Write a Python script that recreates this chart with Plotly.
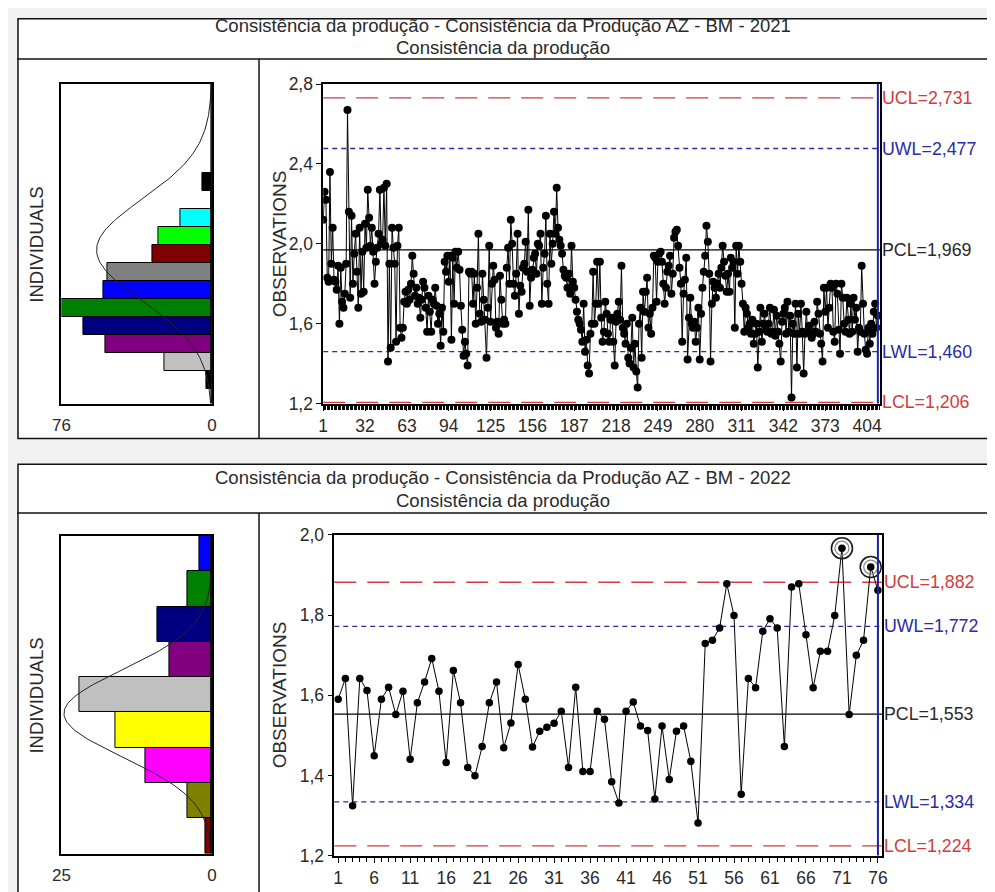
import numpy as np
import plotly.graph_objects as go

# Layout positions below are given in screenshot pixels (995x892).
# Measured from earlier renders: screenshot_px = SCALE * figure_px + ORIGIN
SCALE, ORIGIN = 0.982, 15.7
W, H = 997, 893

# ---------------- data ----------------
title_2021 = "Consistência da produção - Consistência da Produção AZ - BM - 2021"
title_2022 = "Consistência da produção - Consistência da Produção AZ - BM - 2022"
subtitle = "Consistência da produção"

obs_2021 = [
    2.12, 2.26, 2.22, 1.83, 1.81, 2.36, 1.90, 2.08, 1.82, 1.81,
    1.77, 1.89, 1.60, 1.88, 1.71, 1.68, 1.75, 1.90, 2.67, 2.16,
    1.73, 2.14, 1.80, 1.95, 2.05, 1.86, 1.68, 2.08, 1.75, 1.96,
    1.76, 2.10, 1.98, 2.27, 2.13, 1.99, 2.08, 1.96, 1.80, 1.91,
    1.98, 2.05, 2.27, 2.00, 2.02, 2.28, 1.99, 2.30, 1.41, 1.90,
    1.48, 2.08, 1.98, 1.90, 1.51, 1.99, 2.08, 1.58, 1.53, 1.58,
    1.71, 1.76, 1.70, 1.77, 1.72, 1.80, 1.94, 1.85, 1.74, 1.78,
    1.70, 1.73, 1.63, 1.72, 1.81, 1.78, 1.68, 1.56, 1.74, 1.66,
    1.56, 1.72, 1.70, 1.78, 1.69, 1.60, 1.65, 1.49, 1.68, 1.56,
    1.91, 1.86, 1.94, 1.81, 1.94, 1.52, 1.93, 1.70, 1.96, 1.88,
    1.96, 1.87, 1.69, 1.57, 1.44, 1.51, 1.45, 1.39, 1.86, 1.85,
    1.86, 1.70, 1.85, 1.60, 1.78, 2.05, 1.65, 1.61, 1.85, 1.72,
    1.62, 1.43, 1.68, 1.99, 1.61, 1.80, 1.89, 1.82, 1.58, 1.61,
    1.55, 1.84, 1.72, 1.60, 1.62, 1.60, 1.88, 1.98, 1.80, 2.12,
    2.00, 1.80, 1.74, 1.85, 2.05, 1.65, 1.79, 1.76, 1.88, 1.90,
    2.01, 1.86, 2.17, 1.69, 1.83, 1.87, 1.93, 1.95, 1.85, 2.00,
    1.99, 2.05, 1.70, 1.88, 1.95, 2.14, 1.80, 1.70, 2.05, 1.90,
    2.00, 2.16, 2.05, 2.28, 2.08, 2.02, 1.99, 1.95, 1.87, 1.84,
    1.83, 1.78, 1.85, 1.75, 1.99, 1.81, 1.78, 1.72, 1.66, 1.62,
    1.60, 1.57, 1.51, 1.70, 1.46, 1.52, 1.39, 1.35, 1.55, 1.60,
    1.86, 1.60, 1.70, 1.91, 1.70, 1.91, 1.63, 1.51, 1.56, 1.71,
    1.65, 1.55, 1.51, 1.62, 1.63, 1.51, 1.39, 1.61, 1.65, 1.71,
    1.62, 1.89, 1.58, 1.55, 1.50, 1.60, 1.43, 1.40, 1.48, 1.63,
    1.38, 1.50, 1.36, 1.28, 1.60, 1.68, 1.43, 1.76, 1.66, 1.76,
    1.83, 1.58, 1.65, 1.55, 1.68, 1.94, 1.93, 1.71, 1.91, 1.95,
    1.96, 1.91, 1.80, 1.70, 1.78, 1.86, 1.89, 1.94, 1.75, 1.85,
    2.03, 2.06, 2.07, 1.99, 1.88, 1.80, 1.51, 1.75, 1.82, 1.93,
    1.42, 1.63, 1.73, 1.60, 1.58, 1.61, 1.51, 1.58, 1.68, 1.42,
    1.65, 1.78, 1.86, 1.94, 2.09, 2.01, 1.85, 1.41, 1.70, 1.81,
    1.78, 1.73, 1.80, 1.85, 1.78, 1.88, 1.99, 1.91, 1.84, 1.76,
    1.85, 1.76, 1.93, 1.88, 1.91, 1.58, 1.99, 1.85, 1.99, 1.91,
    1.80, 1.70, 1.56, 1.68, 1.65, 1.58, 1.60, 1.55, 1.62, 1.50,
    1.55, 1.60, 1.38, 1.56, 1.68, 1.51, 1.60, 1.65, 1.57, 1.56,
    1.60, 1.68, 1.55, 1.56, 1.67, 1.54, 1.64, 1.56, 1.50, 1.41,
    1.61, 1.65, 1.68, 1.55, 1.71, 1.56, 1.64, 1.23, 1.60, 1.55,
    1.70, 1.38, 1.65, 1.55, 1.70, 1.56, 1.35, 1.55, 1.66, 1.56,
    1.59, 1.56, 1.53, 1.55, 1.61, 1.56, 1.71, 1.65, 1.55, 1.50,
    1.41, 1.78, 1.66, 1.78, 1.58, 1.68, 1.80, 1.78, 1.56, 1.51,
    1.80, 1.75, 1.57, 1.45, 1.80, 1.73, 1.60, 1.56, 1.73, 1.62,
    1.55, 1.70, 1.56, 1.73, 1.62, 1.68, 1.46, 1.58, 1.56, 1.89,
    1.70, 1.55, 1.47, 1.45, 1.58, 1.50, 1.60, 1.55, 1.66, 1.70,
    1.58, 1.64,
]

obs_2022 = [
    1.590, 1.642, 1.324, 1.642, 1.612, 1.449, 1.590, 1.620, 1.552, 1.610,
    1.440, 1.581, 1.633, 1.692, 1.610, 1.432, 1.662, 1.581, 1.420, 1.399,
    1.472, 1.581, 1.633, 1.469, 1.531, 1.677, 1.590, 1.471, 1.510, 1.520,
    1.530, 1.560, 1.420, 1.620, 1.410, 1.410, 1.560, 1.540, 1.384, 1.331,
    1.560, 1.583, 1.523, 1.512, 1.341, 1.523, 1.390, 1.510, 1.523, 1.435,
    1.281, 1.729, 1.737, 1.768, 1.878, 1.799, 1.353, 1.642, 1.619, 1.760,
    1.791, 1.768, 1.472, 1.870, 1.878, 1.751, 1.619, 1.710, 1.710, 1.799,
    1.967, 1.552, 1.700, 1.737, 1.920, 1.862,
]

limit_names = ["UCL", "UWL", "PCL", "LWL", "LCL"]
limits_2021 = [2.731, 2.477, 1.969, 1.460, 1.206]
limits_2022 = [1.882, 1.772, 1.553, 1.334, 1.224]

yticks_2021 = [1.2, 1.6, 2.0, 2.4, 2.8]
yticks_2022 = [1.2, 1.4, 1.6, 1.8, 2.0]

# histograms (counts, bins listed bottom -> top)
hist21_start, hist21_width = 1.274, 0.09
hist21_counts = [3, 24, 54, 65, 76, 55, 53, 30, 27, 16, 0, 5]
hist21_colors = ["#000000", "#c0c0c0", "#800080", "#000080", "#008000", "#0000ff",
                 "#808080", "#800000", "#00ff00", "#00ffff", "#ffffff", "#000000"]
hist21_max = 76

hist22_start, hist22_width = 1.2, 0.8 / 9
hist22_counts = [1, 4, 11, 16, 22, 7, 9, 4, 2]
hist22_colors = ["#800000", "#808000", "#ff00ff", "#ffff00", "#c0c0c0", "#800080",
                 "#000080", "#008000", "#0000ff"]
hist22_max = 25

# ---------------- styling ----------------
FONT = "Liberation Sans, Arial, sans-serif"
RED = "#d23c3c"
BLUE = "#2b2ba6"
TXT = "#2a2a2a"
limit_colors = [RED, BLUE, "#000000", BLUE, RED]
limit_dash = ["22px,11px", "5px,4px", "solid", "5px,4px", "22px,11px"]
label_colors = [RED, BLUE, TXT, BLUE, RED]


def fx(px):
    return max(0.0, (px - ORIGIN) / SCALE / W)


def fy(py):
    return min(1.0, 1 - (py - ORIGIN) / SCALE / H)


fig = go.Figure()
shapes = []
annotations = []

# panel frames
for (x0, y0, x1, y1) in [(10, 10, 990, 438), (12, 463, 990, 905)]:
    shapes.append(dict(type="rect", xref="paper", yref="paper", x0=fx(x0) + 0.001,
                       x1=fx(x1), y0=fy(y1), y1=fy(y0) - 0.001, fillcolor="white",
                       line=dict(color="#111", width=1.5), layer="below"))
for (y, x0, x1) in [(57, 10, 990), (513, 12, 990)]:
    shapes.append(dict(type="line", xref="paper", yref="paper", x0=fx(x0), x1=fx(x1),
                       y0=fy(y), y1=fy(y), line=dict(color="#111", width=1.5)))
for (ya, yb) in [(57, 438), (513, 905)]:
    shapes.append(dict(type="line", xref="paper", yref="paper", x0=fx(257), x1=fx(257),
                       y0=fy(yb), y1=fy(ya), line=dict(color="#111", width=1.5)))

# titles
for (t, yy) in [(title_2021, 23), (subtitle, 45), (title_2022, 477), (subtitle, 500)]:
    annotations.append(dict(text=t, xref="paper", yref="paper", x=fx(500), y=fy(yy),
                            showarrow=False, xanchor="center", yanchor="middle",
                            font=dict(family=FONT, size=18.5, color=TXT)))

panels = [
    dict(obs=obs_2021, lim=limits_2021, yt=yticks_2021, yr=[1.2, 2.8], xdtick=31,
         main=("x", "y", "xaxis", "yaxis"), hist=("x2", "y2", "xaxis2", "yaxis2"),
         mdx=(321, 876), mdy=(82, 403), hdy=(82, 403),
         hstart=hist21_start, hw=hist21_width, hc=hist21_counts, hcol=hist21_colors,
         hmax=hist21_max, msize=8, labx=876, ycenter=243, mtl=6, mtw=1.4),
    dict(obs=obs_2022, lim=limits_2022, yt=yticks_2022, yr=[1.2, 2.0], xdtick=5,
         main=("x3", "y3", "xaxis3", "yaxis3"), hist=("x4", "y4", "xaxis4", "yaxis4"),
         mdx=(332, 878), mdy=(535, 857), hdy=(536, 855),
         hstart=hist22_start, hw=hist22_width, hc=hist22_counts, hcol=hist22_colors,
         hmax=hist22_max, msize=7.5, labx=878, ycenter=696, mtl=6, mtw=1),
]

layout_axes = {}
for p in panels:
    obs = p["obs"]
    n = len(obs)
    xs = list(range(1, n + 1))
    xr_, yr_, xname, yname = p["main"]
    hx, hy, hxname, hyname = p["hist"]

    # main series
    fig.add_trace(go.Scatter(x=xs, y=obs, mode="lines+markers", xaxis=xr_, yaxis=yr_,
                             line=dict(color="black", width=1),
                             marker=dict(color="black", size=p["msize"]),
                             showlegend=False, hoverinfo="skip"))
    # out-of-control rings
    ucl = p["lim"][0]
    lcl = p["lim"][4]
    ox = [x for x, v in zip(xs, obs) if v > ucl or v < lcl]
    oy = [v for v in obs if v > ucl or v < lcl]
    if ox:
        fig.add_trace(go.Scatter(x=ox, y=oy, mode="markers", xaxis=xr_, yaxis=yr_,
                                 marker=dict(symbol="circle-open", size=21, color="#1a1a1a",
                                             line=dict(width=1.6)),
                                 showlegend=False, hoverinfo="skip"))
        fig.add_trace(go.Scatter(x=ox, y=oy, mode="markers", xaxis=xr_, yaxis=yr_,
                                 marker=dict(symbol="circle-open", size=14, color="#8a8a8a",
                                             line=dict(width=1.3)),
                                 showlegend=False, hoverinfo="skip"))

    # control lines + labels
    for name, val, col, dash, lcol in zip(limit_names, p["lim"], limit_colors,
                                          limit_dash, label_colors):
        shapes.append(dict(type="line", xref=f"{xr_} domain", yref=yr_, x0=0, x1=1,
                           y0=val, y1=val, line=dict(color=col, width=1.3, dash=dash),
                           layer="below"))
        annotations.append(dict(text=f"{name}={val:.3f}".replace(".", ","),
                                xref="paper", yref=yr_, x=fx(p["labx"]), y=val,
                                xanchor="left", yanchor="middle", showarrow=False,
                                font=dict(family=FONT, size=17.8, color=lcol)))
    # blue phase end line at last observation
    shapes.append(dict(type="line", xref=xr_, yref=f"{yr_} domain", x0=n, x1=n, y0=0, y1=1,
                       line=dict(color="#2020a0", width=2)))

    # histogram
    centers = [p["hstart"] + (i + 0.5) * p["hw"] for i in range(len(p["hc"]))]
    fig.add_trace(go.Bar(x=p["hc"], y=centers, orientation="h", width=p["hw"],
                         xaxis=hx, yaxis=hy,
                         marker=dict(color=p["hcol"], line=dict(color="black", width=1)),
                         showlegend=False, hoverinfo="skip"))
    # fitted normal curve
    mu = p["lim"][2]
    sigma = (p["lim"][0] - p["lim"][2]) / 3
    cy = np.linspace(p["yr"][0], p["yr"][1], 200)
    cx = n * p["hw"] / (sigma * np.sqrt(2 * np.pi)) * np.exp(-((cy - mu) ** 2) / (2 * sigma ** 2))
    fig.add_trace(go.Scatter(x=cx, y=cy, mode="lines", xaxis=hx, yaxis=hy,
                             line=dict(color="#222", width=1), showlegend=False,
                             hoverinfo="skip"))
    shapes.append(dict(type="line", xref=hx, yref=f"{hy} domain", x0=0, x1=0, y0=0, y1=1,
                       line=dict(color="black", width=3)))

    # axes
    layout_axes[xname] = dict(domain=[fx(p["mdx"][0]), fx(p["mdx"][1])], anchor=yr_,
                              range=[1, n + 1.5] if n > 100 else [0.45, n + 0.55],
                              tickmode="linear", tick0=1, dtick=p["xdtick"],
                              ticks="outside", ticklen=p["mtl"], tickcolor="black",
                              minor=dict(tick0=1, dtick=1, ticks="outside",
                                         ticklen=p["mtl"] - 1,
                                         tickcolor="black", tickwidth=p["mtw"]),
                              showline=True, mirror=True, linecolor="black", linewidth=1.5,
                              showgrid=False, zeroline=False,
                              tickfont=dict(family=FONT, size=17.5, color=TXT))
    layout_axes[yname] = dict(domain=[fy(p["mdy"][1]), fy(p["mdy"][0])], anchor=xr_,
                              range=p["yr"], tickvals=p["yt"], tickformat=".1f",
                              ticks="outside", ticklen=5, tickcolor="black",
                              showline=True, mirror=True, linecolor="black", linewidth=1.5,
                              showgrid=False, zeroline=False,
                              tickfont=dict(family=FONT, size=17.5, color=TXT))
    layout_axes[hxname] = dict(domain=[fx(60), fx(210)], anchor=hy,
                               range=[p["hmax"], 0], tickvals=[p["hmax"], 0],
                               ticks="outside", ticklen=p["mtl"] - 1,
                               tickcolor="rgba(0,0,0,0)",
                               showline=True, mirror=True, linecolor="black",
                               linewidth=1.5, showgrid=False, zeroline=False,
                               tickfont=dict(family=FONT, size=17, color=TXT))
    layout_axes[hyname] = dict(domain=[fy(p["hdy"][1]), fy(p["hdy"][0])], anchor=hx,
                               range=p["yr"], showticklabels=False, ticks="",
                               showline=True, mirror=True, linecolor="black", linewidth=1.5,
                               showgrid=False, zeroline=False)

    annotations.append(dict(text="OBSERVATIONS", xref="paper", yref="paper", x=fx(277),
                            y=fy(p["ycenter"]), textangle=-90, showarrow=False,
                            xanchor="center", yanchor="middle",
                            font=dict(family=FONT, size=19, color=TXT)))
    annotations.append(dict(text="INDIVIDUALS", xref="paper", yref="paper", x=fx(35),
                            y=fy(p["ycenter"]), textangle=-90, showarrow=False,
                            xanchor="center", yanchor="middle",
                            font=dict(family=FONT, size=18.5, color=TXT)))

fig.update_layout(
    width=W, height=H, margin=dict(l=0, r=0, t=0, b=0),
    paper_bgcolor="#f1f1f1", plot_bgcolor="white",
    separators=", ", showlegend=False, bargap=0,
    shapes=shapes, annotations=annotations,
    font=dict(family=FONT, color=TXT),
    **layout_axes,
)

fig.write_html("out.html")
